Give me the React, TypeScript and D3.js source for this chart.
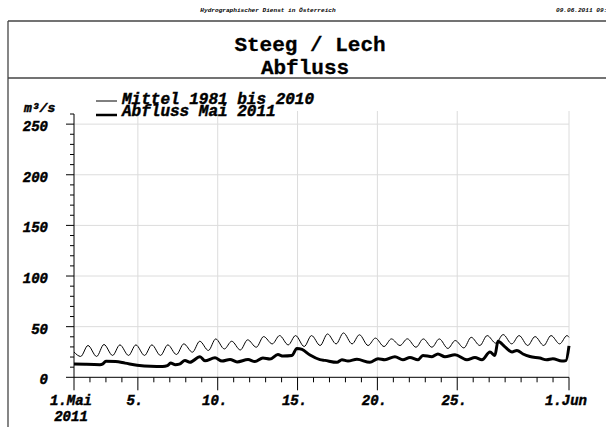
import React from 'react';
import * as d3 from 'd3';

// Mean series: daily trough (~10h) and peak (~21h), m³/s
const mittelStart = 25;
const mittelEnd = 39.5;
const mittelTroughs = [20.6, 20.6, 21.6, 21.6, 21.6, 21.6, 22.5, 24.8, 26.5, 28, 27, 29.7, 33, 32, 30.4, 31.4,
  33, 33, 31.4, 30.4, 31.4, 29.7, 29.7, 28.5, 29, 31.4, 33.7, 33, 31.4, 31.4, 33];
const mittelPeaks = [31.4, 32.4, 32, 32, 32, 32, 33, 35.6, 37.9, 35.6, 37, 40.2, 41.2, 41.2, 41.2, 42.8,
  43.8, 42, 38.7, 37.9, 38, 37.9, 37.9, 36.3, 39.5, 41.2, 42.2, 41.2, 40.2, 41.2, 41.2];
const troughHour = 10;
const peakHour = 21;

// Discharge May 2011: days since 1 May 00:00, value m³/s
const abflussDays = [0, 0.7, 1.63, 1.78, 2.0, 2.6, 3.2, 3.95, 4.8, 5.55, 5.85, 6.05, 6.35, 6.6, 6.95, 7.26,
  7.89, 8.2, 8.83, 9.27, 9.77, 10.21, 10.9, 11.33, 11.83, 12.27, 12.77, 13.09, 13.65, 13.96, 14.28, 14.78,
  15.4, 15.72, 16.47, 16.78, 17.16, 17.72, 18.53, 19.04, 19.47, 20.1, 20.6, 21.04, 21.54, 21.85, 22.42,
  22.79, 23.23, 23.86, 24.61, 25.11, 25.55, 26.05, 26.36, 26.55, 26.99, 27.43, 27.74, 28.12, 28.55, 29.17,
  29.6, 29.99, 30.55, 30.81, 31];
const abflussValues = [13.2, 12.8, 12.5, 13, 15.8, 15.5, 14, 12, 10.8, 10.6, 11.5, 14, 12.5, 13, 16.5, 14.8,
  20.3, 16.4, 19.2, 16, 17.6, 15.2, 17.5, 15.5, 19, 18, 22.5, 21, 21.5, 28.5, 27.5, 22,
  17.5, 16.7, 14.8, 17.3, 16, 17.8, 14.8, 18.3, 17.3, 20.4, 17.3, 19.6, 17.3, 21.6, 20.4,
  23, 20.4, 22.2, 17.3, 19.6, 17.3, 25, 21.6, 35.5, 30, 25, 26.5, 23, 20.5, 19,
  17.3, 18.3, 16, 16.5, 31];

const yTicks = [0, 50, 100, 150, 200, 250];
const xMajorDays = [0, 4, 9, 14, 19, 24, 31];
const xLabels = ['1.Mai', '5.', '10.', '15.', '20.', '25.', '1.Jun'];
const legendLabels = ['Mittel 1981 bis 2010', 'Abfluss Mai 2011'];

const W = 606;
const H = 427;
const mono = "'Liberation Mono', 'DejaVu Sans Mono', monospace";

// heavier look for the bold italic labels
const heavy = { fontWeight: 'bold', fontStyle: 'italic', stroke: '#000', strokeWidth: 0.45 } as const;

export default function App() {
  const x = d3.scaleLinear().domain([0, 31]).range([74, 569]);
  const y = d3.scaleLinear().domain([0, 260]).range([377.3, 114]);

  const mittel: [number, number][] = [[0, mittelStart]];
  mittelTroughs.forEach((v, k) => {
    mittel.push([k + troughHour / 24, v]);
    mittel.push([k + peakHour / 24, mittelPeaks[k]]);
  });
  mittel.push([31, mittelEnd]);

  const abfluss: [number, number][] = abflussDays.map((d, i) => [d, abflussValues[i]]);

  const line = d3.line<[number, number]>()
    .x(d => x(d[0]))
    .y(d => y(d[1]))
    .curve(d3.curveMonotoneX);

  const minorY = d3.range(0, 261, 10);
  const minorX = d3.range(0, 32, 1);
  const gridColor = '#dcdcdc';

  return (
    <svg width={W} height={H} style={{ position: 'absolute', left: 0, top: 0, background: '#fff' }}
      fontFamily={mono}>
      {/* page header */}
      <text x={268} y={12} fontSize={6.1} fontWeight="bold" fontStyle="italic" textAnchor="middle">
        Hydrographischer Dienst in Österreich
      </text>
      <text x={556} y={12} fontSize={6.1} fontWeight="bold" fontStyle="italic">09.06.2011 09:00</text>
      <line x1={8} x2={W} y1={21} y2={21} stroke="#444" strokeWidth={1.3} />
      <line x1={8} x2={W} y1={78} y2={78} stroke="#444" strokeWidth={1.3} />
      <line x1={8} x2={8} y1={21} y2={H} stroke="#444" strokeWidth={1.3} />

      {/* title */}
      <text x={310} y={51} fontSize={21} fontWeight="bold" textAnchor="middle" stroke="#000" strokeWidth={0.3}>Steeg / Lech</text>
      <text x={305} y={74} fontSize={21} fontWeight="bold" textAnchor="middle" stroke="#000" strokeWidth={0.3}>Abfluss</text>

      {/* grid */}
      {yTicks.filter(v => v > 0).map(v => (
        <line key={'gy' + v} x1={x(0)} x2={x(31)} y1={y(v)} y2={y(v)} stroke={gridColor} />
      ))}
      {xMajorDays.filter(d => d > 0).map(d => (
        <line key={'gx' + d} x1={x(d)} x2={x(d)} y1={y(260) - 3} y2={y(0)} stroke={gridColor} />
      ))}

      {/* y axis */}
      <line x1={x(0)} x2={x(0)} y1={y(260)} y2={y(0)} stroke="#000" />
      {minorY.map(v => (
        <line key={'my' + v} x1={x(0) - (v % 50 === 0 ? 8 : 4)} x2={x(0)} y1={y(v)} y2={y(v)} stroke="#000" />
      ))}
      {yTicks.map(v => (
        <text key={'ly' + v} x={48} y={y(v) + 7} fontSize={14} textAnchor="end" {...heavy}>{v}</text>
      ))}
      <text x={24} y={112} fontSize={13} {...heavy}>m³/s</text>

      {/* x axis */}
      <line x1={x(0)} x2={x(31)} y1={y(0)} y2={y(0)} stroke="#000" />
      {minorX.map(d => (
        <line key={'mx' + d} x1={x(d)} x2={x(d)} y1={y(0)}
          y2={y(0) + (xMajorDays.includes(d) ? 13 : 5)} stroke="#000" />
      ))}
      {xMajorDays.map((d, i) => (
        <text key={'lx' + d} x={x(d) - 3} y={405} fontSize={14} textAnchor="middle" {...heavy}>{xLabels[i]}</text>
      ))}
      <text x={x(0) - 3} y={421} fontSize={14} textAnchor="middle" {...heavy}>2011</text>

      {/* series */}
      <path d={line(mittel) || ''} fill="none" stroke="#000" strokeWidth={1} />
      <path d={line(abfluss) || ''} fill="none" stroke="#000" strokeWidth={3} strokeLinejoin="round" />

      {/* legend */}
      {legendLabels.map((lab, i) => (
        <g key={lab}>
          <line x1={96} x2={117} y1={101 + i * 14} y2={101 + i * 14} stroke="#000" strokeWidth={i === 0 ? 1 : 2.5} />
          <text x={122} y={104 + i * 12} fontSize={16} {...heavy}>{lab}</text>
        </g>
      ))}
    </svg>
  );
}
